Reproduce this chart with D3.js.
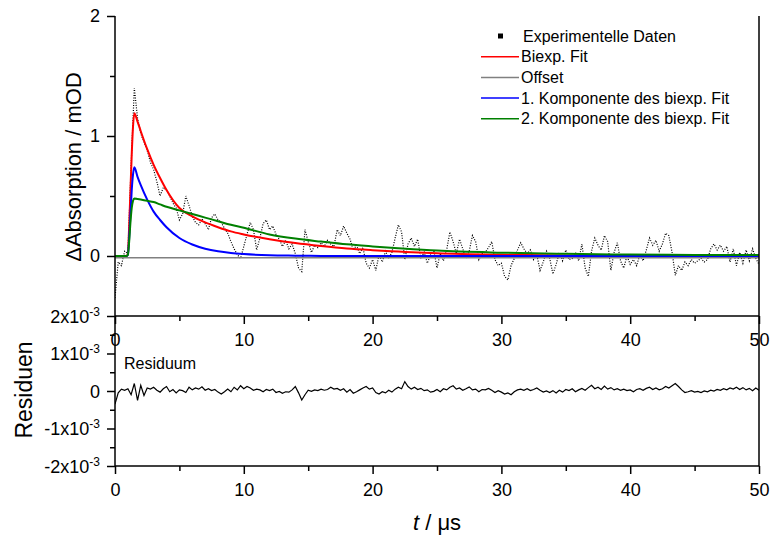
<!DOCTYPE html>
<html>
<head>
<meta charset="utf-8">
<script src="https://cdn.jsdelivr.net/npm/d3@7"></script>
<style>
  body { margin: 0; background: #fff; }
  svg { font-family: "Liberation Sans", Arial, sans-serif; }
  .axis path, .axis line { stroke: #000; stroke-width: 1.5; }
  .axis text { font-size: 18px; fill: #000; }
</style>
</head>
<body>
<div id="chart"></div>
<script>
// sampling step of the measured trace and of the residual (µs)
const sampleStep = 0.25;

// experimental trace, ΔA in mOD, one value every 0.25 µs from t = 0
const expData = [
  -0.35, -0.05, -0.08, 0.04, 0.02, 0.75, 1.40, 1.15, 1.02, 0.95,
  0.88, 0.78, 0.72, 0.62, 0.50, 0.57, 0.55, 0.50, 0.44, 0.40,
  0.30, 0.35, 0.50, 0.42, 0.33, 0.28, 0.26, 0.31, 0.27, 0.22,
  0.32, 0.35, 0.30, 0.28, 0.23, 0.19, 0.12, 0.06, 0.01, -0.02,
  0.08, 0.18, 0.28, 0.22, 0.05, 0.15, 0.27, 0.30, 0.22, 0.25,
  0.18, 0.14, 0.08, 0.13, 0.06, 0.10, 0.02, -0.10, -0.13, 0.22,
  0.12, 0.03, 0.09, 0.07, 0.11, 0.08, 0.13, 0.10, 0.08, 0.22,
  0.17, 0.25, 0.19, 0.14, 0.05, 0.09, 0.02, 0.07, -0.06, -0.10,
  -0.03, -0.12, 0.01, -0.05, 0.04, -0.02, 0.03, 0.15, 0.26, 0.20,
  -0.03, 0.10, 0.15, 0.08, 0.14, -0.02, 0.03, -0.06, 0.01, 0.05,
  -0.10, 0.02, -0.04, 0.05, 0.20, 0.12, 0.02, 0.14, 0.06, -0.02,
  0.04, 0.17, 0.12, -0.03, 0.02, 0.03, 0.07, 0.12, -0.03, -0.08,
  -0.06, -0.17, -0.20, -0.08, -0.02, 0.05, 0.11, 0.06, 0.02, 0.05,
  -0.03, 0.01, -0.12, -0.05, 0.04, -0.02, -0.15, -0.07, 0.03, -0.04,
  0.05, -0.03, -0.02, 0.03, -0.04, 0.10, -0.10, -0.17, 0.04, 0.15,
  0.09, 0.05, 0.17, 0.12, -0.12, 0.03, 0.11, -0.04, -0.10, 0.00,
  -0.07, -0.03, -0.08, 0.01, -0.04, 0.05, 0.15, 0.09, 0.13, 0.04,
  0.10, 0.19, 0.17, 0.03, -0.16, -0.08, -0.12, -0.05, -0.08, -0.03,
  -0.06, -0.04, -0.02, -0.05, -0.03, 0.06, 0.10, 0.05, 0.09, 0.04,
  0.08, -0.05, 0.06, -0.08, 0.03, -0.06, 0.05, -0.04, 0.06, -0.02,
  -0.07
];

// residual, in units of 10^-3, same sampling
const residualE3 = [
  -0.35, -0.05, 0.05, 0.02, 0.06, -0.10, 0.20, -0.25, 0.15, -0.12,
  0.08, 0.05, 0.10, 0.02, -0.03, 0.06, 0.12, -0.02, 0.04, -0.05,
  0.03, 0.01, -0.04, 0.10, 0.03, 0.08, 0.05, 0.11, 0.02, 0.06,
  0.01, 0.04, -0.03, -0.08, -0.02, 0.05, -0.02, 0.10, 0.03, 0.14,
  0.06, 0.12, 0.08, 0.02, 0.05, 0.03, -0.02, 0.04, 0.01, 0.05,
  -0.04, -0.01, -0.06, -0.02, -0.03, 0.03, 0.12, -0.05, -0.24, -0.10,
  0.02, -0.01, 0.03, 0.01, 0.05, 0.02, 0.04, 0.10, 0.05, 0.07,
  0.02, 0.06, -0.03, 0.04, -0.06, -0.02, 0.03, 0.08, 0.12, 0.05,
  0.08, -0.04, -0.08, -0.02, -0.05, 0.02, -0.03, 0.05, 0.10, 0.06,
  0.25, 0.12, 0.05, 0.10, 0.04, 0.07, 0.01, 0.03, -0.03, -0.01,
  0.04, -0.02, 0.06, 0.03, 0.10, 0.14, 0.05, 0.08, 0.02, 0.06,
  0.11, 0.03, 0.05, -0.02, 0.04, 0.03, 0.07, 0.02, -0.04, 0.01,
  -0.03, -0.08, -0.05, -0.10, -0.02, 0.03, 0.05, 0.02, 0.06, 0.01,
  0.04, 0.08, 0.02, -0.03, 0.00, -0.04, 0.01, -0.05, 0.02, -0.03,
  0.04, 0.01, 0.06, -0.02, 0.03, 0.07, 0.02, 0.09, 0.15, 0.06,
  0.10, 0.04, 0.13, 0.05, 0.09, 0.03, 0.06, 0.02, 0.05, 0.01,
  0.03, -0.02, 0.04, 0.06, 0.02, 0.07, 0.10, 0.04, 0.08, 0.03,
  0.06, 0.12, 0.08, 0.14, 0.20, 0.12, 0.03, -0.04, -0.02, 0.01,
  -0.03, -0.01, -0.04, 0.00, -0.02, 0.02, 0.00, 0.04, 0.02, 0.06,
  0.03, 0.08, 0.05, 0.10, 0.04, 0.09, 0.03, 0.07, 0.01, 0.08,
  0.02
];

// fit curves
const fitT     = [0, 0.9, 1.0, 1.1, 1.2, 1.3, 1.4, 1.5, 1.75, 2, 2.5, 3, 3.5, 4, 5, 6, 7, 8, 9, 10, 12, 14, 16, 18, 20, 22, 25, 30, 35, 40, 45, 50];
const fitBiexp = [0, 0, 0.02, 0.25, 0.55, 0.85, 1.08, 1.19, 1.12, 1.04, 0.89, 0.76, 0.65, 0.55, 0.40, 0.33, 0.28, 0.24, 0.205, 0.18, 0.14, 0.108, 0.083, 0.062, 0.048, 0.037, 0.022, 0.01, 0.005, 0.002, 0.001, 0];
const fitComp1 = [0, 0, 0.01, 0.15, 0.35, 0.55, 0.68, 0.74, 0.66, 0.59, 0.47, 0.37, 0.30, 0.24, 0.15, 0.096, 0.061, 0.039, 0.025, 0.016, 0.006, 0.003, 0.001, 0, 0, 0, 0, 0, 0, 0, 0, 0];
const fitComp2 = [0, 0, 0.01, 0.12, 0.28, 0.40, 0.46, 0.48, 0.475, 0.47, 0.46, 0.45, 0.43, 0.41, 0.38, 0.35, 0.32, 0.29, 0.26, 0.235, 0.18, 0.145, 0.12, 0.097, 0.08, 0.065, 0.045, 0.028, 0.018, 0.012, 0.009, 0.008];
const offsetValue = -0.015;

const xTicks = [0, 10, 20, 30, 40, 50];
const xMinorTicks = [5, 15, 25, 35, 45];
const topTicks = [0, 1, 2];
const topMinorTicks = [0.5, 1.5];
const resTicks = [-2, -1, 0, 1, 2];
const resMinorTicks = [-1.5, -0.5, 0.5, 1.5];

const legendItems = [
  { label: "Experimentelle Daten", color: "#000", kind: "marker" },
  { label: "Biexp. Fit", color: "#ff0000", kind: "line" },
  { label: "Offset", color: "#808080", kind: "line" },
  { label: "1. Komponente des biexp. Fit", color: "#0000ff", kind: "line" },
  { label: "2. Komponente des biexp. Fit", color: "#008000", kind: "line" }
];

const svgWidth = 771;
const svgHeight = 542;
const left = 115, right = 759;
const topY = 16, splitY = 316, bottomY = 466;

const svg = d3.select("#chart").append("svg")
  .attr("width", svgWidth)
  .attr("height", svgHeight);

const x = d3.scaleLinear().domain([0, 50]).range([left, right]);
const yTop = d3.scaleLinear().domain([-0.5, 2]).range([splitY, topY]);
const yRes = d3.scaleLinear().domain([-2, 2]).range([bottomY, splitY]);

svg.append("clipPath").attr("id", "clipTop")
  .append("rect").attr("x", left).attr("y", topY).attr("width", right - left).attr("height", splitY - topY);
svg.append("clipPath").attr("id", "clipRes")
  .append("rect").attr("x", left).attr("y", splitY).attr("width", right - left).attr("height", bottomY - splitY);

// ---- top panel marks
const expPts = expData.map((v, i) => [i * sampleStep, v]);
const topLine = d3.line().x(d => x(d[0])).y(d => yTop(d[1]));

const topMarks = svg.append("g").attr("clip-path", "url(#clipTop)");

topMarks.append("path")
  .datum(expPts)
  .attr("d", topLine)
  .attr("fill", "none")
  .attr("stroke", "#000")
  .attr("stroke-width", 1.2)
  .attr("stroke-dasharray", "1,1.5");

const fitLine = d3.line().x(d => x(d[0])).y(d => yTop(d[1])).curve(d3.curveMonotoneX);
const fits = [
  { values: fitBiexp, color: "#ff0000" },
  { values: fitComp1, color: "#0000ff" },
  { values: fitComp2, color: "#008000" }
];

topMarks.append("path")
  .datum([[0, offsetValue], [50, offsetValue]])
  .attr("d", topLine)
  .attr("fill", "none")
  .attr("stroke", "#808080")
  .attr("stroke-width", 1.5);

fits.forEach(f => {
  topMarks.append("path")
    .datum(fitT.map((t, i) => [t, f.values[i]]))
    .attr("d", fitLine)
    .attr("fill", "none")
    .attr("stroke", f.color)
    .attr("stroke-width", 2);
});

// ---- residual panel marks
const resPts = residualE3.map((v, i) => [i * sampleStep, v]);
svg.append("g").attr("clip-path", "url(#clipRes)")
  .append("path")
  .datum(resPts)
  .attr("d", d3.line().x(d => x(d[0])).y(d => yRes(d[1])))
  .attr("fill", "none")
  .attr("stroke", "#000")
  .attr("stroke-width", 1.2);

// ---- axes
function addAxis(axis, transform) {
  return svg.append("g").attr("class", "axis").attr("transform", transform).call(axis);
}

// top panel y axis
addAxis(d3.axisLeft(yTop).tickValues(topTicks).tickSize(8).tickPadding(7).tickFormat(d3.format("d")), `translate(${left},0)`)
  .select(".domain").remove();
addAxis(d3.axisLeft(yTop).tickValues(topMinorTicks).tickSize(5).tickFormat(""), `translate(${left},0)`)
  .select(".domain").remove();

// top panel x axis (labels sit inside the residual panel)
addAxis(d3.axisBottom(x).tickValues(xTicks).tickSize(8).tickPadding(9), `translate(0,${splitY})`)
  .select(".domain").remove();
addAxis(d3.axisBottom(x).tickValues(xMinorTicks).tickSize(5).tickFormat(""), `translate(0,${splitY})`)
  .select(".domain").remove();

// residual y axis with 10^-3 labels
const resAxis = addAxis(d3.axisLeft(yRes).tickValues(resTicks).tickSize(8).tickPadding(7).tickFormat(""), `translate(${left},0)`);
resAxis.select(".domain").remove();
resAxis.selectAll(".tick").each(function(d) {
  const txt = d3.select(this).append("text")
    .attr("x", -15)
    .attr("dy", "0.35em")
    .attr("text-anchor", "end")
    .attr("fill", "#000")
    .style("font-size", "18px");
  if (d === 0) {
    txt.text("0");
  } else {
    txt.append("tspan").text(`${d}x10`);
    txt.append("tspan").attr("dy", -7).style("font-size", "12px").text("-3");
  }
});
addAxis(d3.axisLeft(yRes).tickValues(resMinorTicks).tickSize(5).tickFormat(""), `translate(${left},0)`)
  .select(".domain").remove();

// residual x axis
addAxis(d3.axisBottom(x).tickValues(xTicks).tickSize(8).tickPadding(9), `translate(0,${bottomY})`)
  .select(".domain").remove();
addAxis(d3.axisBottom(x).tickValues(xMinorTicks).tickSize(5).tickFormat(""), `translate(0,${bottomY})`)
  .select(".domain").remove();

// frame lines
const frame = svg.append("g").attr("stroke", "#000").attr("stroke-width", 1.5);
frame.append("line").attr("x1", left).attr("x2", left).attr("y1", topY).attr("y2", bottomY);
frame.append("line").attr("x1", right).attr("x2", right).attr("y1", topY).attr("y2", bottomY);
frame.append("line").attr("x1", left).attr("x2", right).attr("y1", splitY).attr("y2", splitY);
frame.append("line").attr("x1", left).attr("x2", right).attr("y1", bottomY).attr("y2", bottomY);

// ---- titles
svg.append("text")
  .attr("transform", "rotate(-90)")
  .attr("x", -167)
  .attr("y", 81)
  .attr("text-anchor", "middle")
  .style("font-size", "22px")
  .text("ΔAbsorption / mOD");

svg.append("text")
  .attr("transform", "rotate(-90)")
  .attr("x", -390)
  .attr("y", 32)
  .attr("text-anchor", "middle")
  .style("font-size", "23px")
  .text("Residuen");

const xTitle = svg.append("text")
  .attr("x", 437)
  .attr("y", 530)
  .attr("text-anchor", "middle")
  .style("font-size", "22px");
xTitle.append("tspan").style("font-style", "italic").text("t");
xTitle.append("tspan").text(" / μs");

svg.append("text")
  .attr("x", 124)
  .attr("y", 369)
  .style("font-size", "16px")
  .text("Residuum");

// ---- legend
const legend = svg.append("g").attr("transform", "translate(481,36)");
legendItems.forEach((item, i) => {
  const row = legend.append("g").attr("transform", `translate(0,${i * 20.7})`);
  if (item.kind === "marker") {
    row.append("rect").attr("x", 17).attr("y", -2.5).attr("width", 5).attr("height", 5).attr("fill", item.color);
  } else {
    row.append("line").attr("x1", 0).attr("x2", 38).attr("y1", 0).attr("y2", 0)
      .attr("stroke", item.color).attr("stroke-width", 1.5);
  }
  row.append("text")
    .attr("x", item.kind === "marker" ? 42 : 40)
    .attr("dy", "0.35em")
    .style("font-size", "16px")
    .text(item.label);
});
</script>
</body>
</html>
